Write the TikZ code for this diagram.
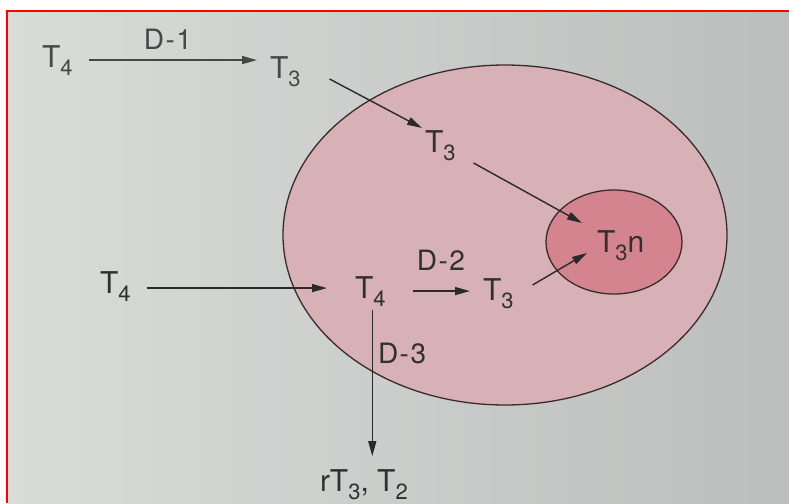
\documentclass[tikz,border=0pt]{standalone}
\usepackage{fontspec}
\setmainfont{TeX Gyre Heros}
\usetikzlibrary{arrows.meta}
\definecolor{ink}{HTML}{303030}
\definecolor{inkpale}{HTML}{474747}
\definecolor{linec}{HTML}{2A2A2A}
\definecolor{bgl}{HTML}{DADCDA}
\definecolor{bgr}{HTML}{BCBEBD}
\definecolor{cellfill}{HTML}{D8B1B7}
\definecolor{nucfill}{HTML}{D4848E}
\definecolor{rimc}{HTML}{3A2A2C}
\newcommand\tsub[1]{\raisebox{-8pt}{\fontsize{22}{22}\selectfont #1}}
\newcommand\lblD[1]{D\kern1.5pt-\kern1.5pt#1}
\begin{document}
\begin{tikzpicture}[x=1pt,y=-1pt,
  txt/.style={inner sep=0pt, outer sep=0pt, anchor=base west, text=ink,
    font=\fontsize{30}{30}\selectfont},
  lbl/.style={inner sep=0pt, outer sep=0pt, text=ink,
    font=\fontsize{28}{28}\selectfont},
  arr/.style={draw=linec, line width=1.4pt, -{Triangle[length=15pt,width=8pt]}},
  rim/.style={draw=rimc, line width=1.3pt}]
\useasboundingbox (0,0) rectangle (789,503);
% page background
\fill[white] (0,0) rectangle (789,503);
\shade[left color=bgl, right color=bgr] (7,11) rectangle (789,503);
\draw[red, line width=2pt] (7,503) -- (7,11) -- (789,11);
% cell and nucleus
\path[rim, fill=cellfill] (505,235) ellipse [x radius=222, y radius=170];
\path[rim, fill=nucfill] (614,242) ellipse [x radius=68, y radius=52];
% texts
\node[txt, text=inkpale] (t4a) at (42,67) {T\tsub{4}};
\node[txt, text=inkpale] (t3a) at (270,78) {T\tsub{3}};
\node[txt] (t3b) at (425,152) {T\tsub{3}};
\node[txt] (t3n) at (597,252) {T\tsub{3}n};
\node[txt] (t4b) at (100,293) {T\tsub{4}};
\node[txt] (t4c) at (355,298) {T\tsub{4}};
\node[txt] (t3c) at (483,300) {T\tsub{3}};
\node[txt] (bot) at (320,491) {rT\tsub{3}, T\tsub{2}};
\node[lbl, anchor=base, text=inkpale] (d1) at (168,49) {\lblD{1}};
\node[lbl, anchor=base] (d2) at (441,270) {\lblD{2}};
\node[lbl, anchor=base west] (d3) at (378,363) {\lblD{3}};
% connectors
\draw[arr, draw=inkpale, shorten <=16pt, shorten >=13pt]
  (t4a.east) -- (t4a.east -| t3a.west);
\draw[arr] ([shift={(29,1)}]t3a.base east) -- ([shift={(-3,-24)}]t3b.base west);
\draw[arr] ([shift={(18,11)}]t3b.base east) -- ([shift={(-15,-29)}]t3n.base west);
\draw[arr] ([shift={(19,-15)}]t3c.base east) -- ([shift={(-10,1)}]t3n.base west);
\draw[arr, shorten <=16pt, shorten >=28pt]
  ([shift={(0,2)}]t4b.east) -- ([shift={(0,2)}]t4b.east -| t4c.west);
\draw[arr, shorten <=27pt, shorten >=13pt]
  (t4c.east) -- (t4c.east -| t3c.west);
\draw[arr, shorten <=4pt, shorten >=13pt]
  ([shift={(2,0)}]t4c.south) -- ([shift={(2,0)}]t4c.south |- bot.north);
\end{tikzpicture}
\end{document}
